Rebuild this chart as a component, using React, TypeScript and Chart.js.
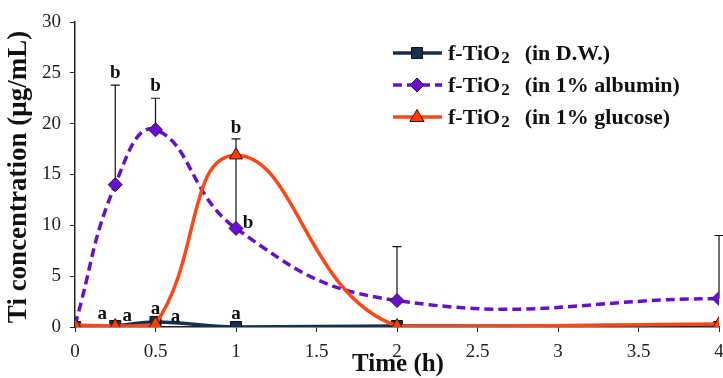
import React, { useEffect, useRef } from "react";
import { Chart, registerables } from "chart.js";
Chart.register(...registerables);

// ---- data ----
const times = [0, 0.25, 0.5, 1, 2, 4];
const dwValues = [0.0, 0.1, 0.5, 0.0, 0.1, 0.0];
const albuminValues = [0.2, 14.0, 19.4, 9.7, 2.6, 2.8];
const glucoseValues = [0.2, 0.1, 0.3, 16.9, 0.1, 0.3];
const albuminUpper = [null, 23.8, 22.5, 16.9, 7.9, 9.0];
const glucoseUpper = [null, null, null, 18.5, null, null];
const dwUpper = [null, null, null, null, null, null];

const seriesSuffix = ["(in D.W.)", "(in 1% albumin)", "(in 1% glucose)"];
const xTitle = "Time (h)";
const yTitle = "Ti concentration (\u03bcg/mL)";
const xMin = 0, xMax = 4, xStep = 0.5;
const yMin = 0, yMax = 30, yStep = 5;

// significance letters: series, point index, anchor ("value" | "upper"), text, pixel offsets
const letterSeries = ["dw", "dw", "dw", "dw", "dw", "alb", "alb", "glu", "alb"];
const letterIndex = [1, 1, 2, 2, 3, 1, 2, 3, 3];
const letterAnchor = ["value", "value", "value", "value", "value", "upper", "upper", "upper", "value"];
const letterText = ["a", "a", "a", "a", "a", "b", "b", "b", "b"];
const letterDx = [-13, 12, 0, 20, 0, 0, 0, 0, 12];
const letterDy = [-12, -10, -13, -5, -13, -12, -12, -11, -5];

const NAVY = "#17314d";
const PURPLE = "#6610cc";
const ORANGE = "#ff4716";
const SERIF = "'Liberation Serif', 'Times New Roman', serif";

const seriesMap: Record<string, { values: number[]; upper: (number | null)[] }> = {
  dw: { values: dwValues, upper: dwUpper },
  alb: { values: albuminValues, upper: albuminUpper },
  glu: { values: glucoseValues, upper: glucoseUpper },
};

const toPoints = (vals: number[]) => times.map((t, i) => ({ x: t, y: vals[i] }));

const errorBarPlugin = {
  id: "errorBars",
  beforeDatasetsDraw(chart: any) {
    const { ctx, scales } = chart;
    const xs = scales.x, ys = scales.y;
    ctx.save();
    ctx.strokeStyle = "#111";
    ctx.lineWidth = 1.2;
    for (const key of ["alb", "glu", "dw"]) {
      const s = seriesMap[key];
      s.upper.forEach((u, i) => {
        if (u == null) return;
        const px = xs.getPixelForValue(times[i]);
        const y0 = ys.getPixelForValue(s.values[i]);
        const y1 = ys.getPixelForValue(u);
        ctx.beginPath();
        ctx.moveTo(px, y0);
        ctx.lineTo(px, y1);
        ctx.moveTo(px - 4.5, y1);
        ctx.lineTo(px + 4.5, y1);
        ctx.stroke();
      });
    }
    ctx.restore();
  },
};

const lettersPlugin = {
  id: "letters",
  afterDatasetsDraw(chart: any) {
    const { ctx, scales } = chart;
    const xs = scales.x, ys = scales.y;
    ctx.save();
    ctx.fillStyle = "#111";
    ctx.font = `bold 19px ${SERIF}`;
    ctx.textAlign = "center";
    ctx.textBaseline = "middle";
    letterText.forEach((txt, k) => {
      const s = seriesMap[letterSeries[k]];
      const i = letterIndex[k];
      const v = letterAnchor[k] === "upper" ? (s.upper[i] as number) : s.values[i];
      const px = xs.getPixelForValue(times[i]) + letterDx[k];
      const py = ys.getPixelForValue(v) + letterDy[k];
      ctx.fillText(txt, px, py);
    });
    ctx.restore();
  },
};

function drawMarker(ctx: CanvasRenderingContext2D, kind: string, x: number, y: number) {
  ctx.beginPath();
  if (kind === "rect") {
    const h = 5.5;
    ctx.rect(x - h, y - h, 2 * h, 2 * h);
    ctx.fillStyle = NAVY;
    ctx.strokeStyle = "#0a0f18";
  } else if (kind === "diamond") {
    const r = 7;
    ctx.moveTo(x, y - r);
    ctx.lineTo(x + r, y);
    ctx.lineTo(x, y + r);
    ctx.lineTo(x - r, y);
    ctx.closePath();
    ctx.fillStyle = "#6a0fd0";
    ctx.strokeStyle = "#2a0a50";
  } else {
    const r = 7.5;
    ctx.moveTo(x, y - r);
    ctx.lineTo(x + r * 0.95, y + r * 0.6);
    ctx.lineTo(x - r * 0.95, y + r * 0.6);
    ctx.closePath();
    ctx.fillStyle = "#ff3c00";
    ctx.strokeStyle = "#3a1208";
  }
  ctx.lineWidth = 1;
  ctx.setLineDash([]);
  ctx.fill();
  ctx.stroke();
}

const decorPlugin = {
  id: "decor",
  afterDraw(chart: any) {
    const { ctx } = chart;
    ctx.save();
    // axis titles
    ctx.fillStyle = "#111";
    ctx.textAlign = "center";
    ctx.textBaseline = "middle";
    ctx.font = `bold 25px ${SERIF}`;
    ctx.fillText(xTitle, 398, 365);
    ctx.save();
    ctx.translate(19, 177);
    ctx.rotate(-Math.PI / 2);
    ctx.font = `bold 27px ${SERIF}`;
    ctx.fillText(yTitle, 0, 0);
    ctx.restore();

    // legend
    const rows = [53, 85, 117];
    const colors = [NAVY, PURPLE, ORANGE];
    const dashes = [[], [9, 5], []];
    const kinds = ["rect", "diamond", "tri"];
    rows.forEach((ry, i) => {
      ctx.beginPath();
      ctx.strokeStyle = colors[i];
      ctx.lineWidth = 3.5;
      ctx.setLineDash(dashes[i]);
      ctx.moveTo(393, ry);
      ctx.lineTo(442, ry);
      ctx.stroke();
      ctx.setLineDash([]);
      drawMarker(ctx, kinds[i], 417, ry);
      ctx.fillStyle = "#111";
      ctx.textAlign = "left";
      ctx.textBaseline = "alphabetic";
      ctx.font = `bold 22px ${SERIF}`;
      const base = ry + 7;
      let x = 448;
      ctx.fillText("f-TiO", x, base);
      x += ctx.measureText("f-TiO").width + 1;
      ctx.font = `bold 17px ${SERIF}`;
      ctx.fillText("2", x, base + 3);
      x += ctx.measureText("2").width + 15;
      ctx.font = `bold 22px ${SERIF}`;
      ctx.fillText(seriesSuffix[i], x, base);
    });
    ctx.restore();
  },
};

export default function App() {
  const ref = useRef<HTMLCanvasElement>(null);
  useEffect(() => {
    document.body.style.margin = "0";
    const canvas = ref.current as HTMLCanvasElement;
    const chart = new Chart(canvas, {
      type: "line",
      data: {
        datasets: [
          {
            label: "glucose",
            data: toPoints(glucoseValues),
            borderColor: ORANGE,
            borderWidth: 3.5,
            tension: 0.45,
            pointStyle: "triangle",
            pointRadius: 7.5,
            pointBackgroundColor: "#ff3c00",
            pointBorderColor: "#3a1208",
            pointBorderWidth: 1,
            fill: false,
          },
          {
            label: "albumin",
            data: toPoints(albuminValues),
            borderColor: PURPLE,
            borderWidth: 3.5,
            borderDash: [9, 5],
            tension: 0.45,
            pointStyle: "rectRot",
            pointRadius: 7,
            pointBackgroundColor: "#6a0fd0",
            pointBorderColor: "#2a0a50",
            pointBorderWidth: 1,
            fill: false,
          },
          {
            label: "dw",
            data: toPoints(dwValues),
            borderColor: NAVY,
            borderWidth: 3.5,
            tension: 0.45,
            pointStyle: "rect",
            pointRadius: 7.8,
            pointBackgroundColor: NAVY,
            pointBorderColor: "#0a0f18",
            pointBorderWidth: 1,
            fill: false,
          },
        ],
      },
      options: {
        responsive: false,
        animation: false,
        devicePixelRatio: 1,
        layout: { padding: { top: 22, right: 41, left: 0, bottom: 0 } },
        plugins: { legend: { display: false }, tooltip: { enabled: false } },
        scales: {
          x: {
            type: "linear",
            min: xMin,
            max: xMax,
            afterFit: (s: any) => { s.height = 51; },
            ticks: {
              stepSize: xStep,
              color: "#222",
              font: { family: SERIF, size: 19 },
              padding: 9,
              maxRotation: 0,
              callback: (v: any) => String(v),
            },
            grid: { drawOnChartArea: false, color: "#222", tickLength: 5, lineWidth: 1 },
            border: { color: "#222", width: 1.5 },
          },
          y: {
            type: "linear",
            min: yMin,
            max: yMax,
            afterFit: (s: any) => { s.width = 75; },
            ticks: {
              stepSize: yStep,
              color: "#222",
              font: { family: SERIF, size: 19 },
              padding: 9,
              callback: (v: any) => String(v),
            },
            grid: { drawOnChartArea: false, color: "#222", tickLength: 5, lineWidth: 1 },
            border: { color: "#222", width: 1.5 },
          },
        },
      },
      plugins: [errorBarPlugin, lettersPlugin, decorPlugin],
    } as any);
    return () => chart.destroy();
  }, []);
  return (
    <div
      style={{
        position: "fixed",
        left: 0,
        top: 0,
        width: 723,
        height: 378,
        overflow: "hidden",
        background: "#fff",
      }}
    >
      <canvas ref={ref} width={760} height={378} style={{ width: 760, height: 378, display: "block" }} />
    </div>
  );
}
